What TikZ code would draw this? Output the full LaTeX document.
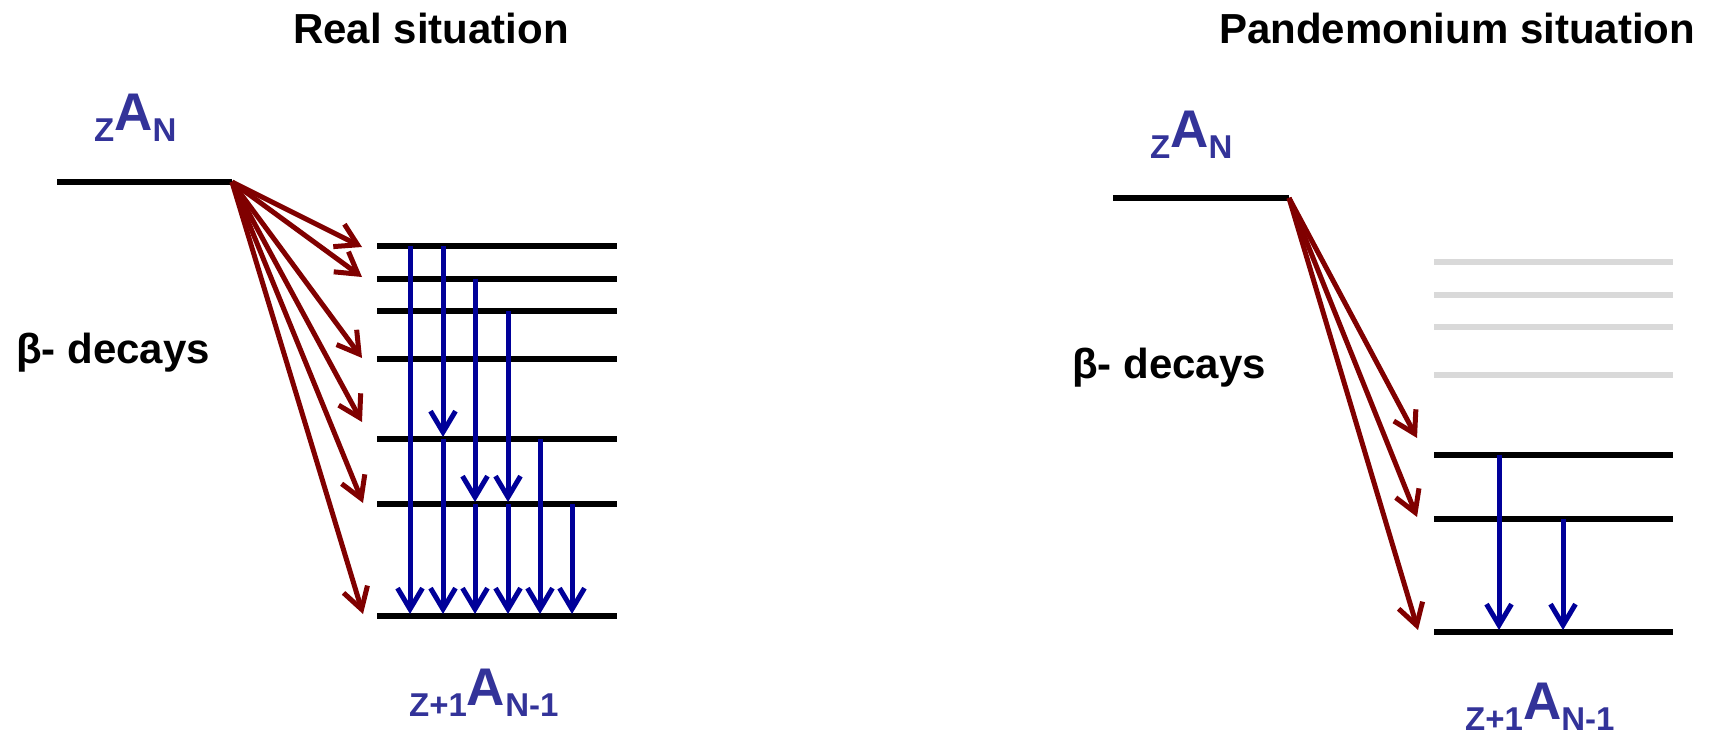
\documentclass[tikz,border=0pt]{standalone}
\usepackage{fontspec}
\setmainfont{Liberation Sans}
\usetikzlibrary{arrows.meta}
\definecolor{nucblue}{RGB}{51,51,153}
\definecolor{betared}{RGB}{128,0,0}
\definecolor{gamblue}{RGB}{0,0,153}
\definecolor{ghostgray}{RGB}{217,217,217}
\newcommand{\nucsym}[2]{\raisebox{-11pt}{\fontsize{33}{36}\selectfont #1}{\fontsize{53}{60}\selectfont A}\raisebox{-11pt}{\fontsize{33}{36}\selectfont #2}}
\tikzset{
  enlevel/.style={line width=6pt, black},
  ghostlevel/.style={line width=6pt, ghostgray},
  betaarrow/.style={line width=5pt, betared, -{Straight Barb[length=21pt,width=25pt]}},
  gamarrow/.style={line width=5pt, gamblue, -{Straight Barb[length=21pt,width=25pt]}},
  titletext/.style={font=\bfseries\fontsize{42}{50}\selectfont, inner sep=0pt, anchor=base},
  decaytext/.style={font=\bfseries\fontsize{42}{50}\selectfont, inner sep=0pt, anchor=base west},
  nuctext/.style={font=\bfseries, text=nucblue, inner sep=0pt, anchor=base west},
}
\begin{document}
\begin{tikzpicture}[x=1pt,y=-1pt]
\useasboundingbox (0,0) rectangle (1716,736);

% ---------- titles ----------
\node[titletext] (t1) at (431,43) {Real situation};
\node[titletext] (t2) at (1457,43) {Pandemonium situation};

% ---------- left: real situation ----------
\node[nuctext] (nucL) at (94,130) {\nucsym{Z}{N}};
\node[decaytext] (decL) at (16,363) {β- decays};
\node[nuctext] (dauL) at (409,705) {\nucsym{Z+1}{N-1}};

\coordinate (P0w) at (57,182);
\coordinate (P0e) at (232,182);
\draw[enlevel] (P0w) -- (P0e);

\foreach \i/\y in {1/246,2/279,3/311,4/359,5/439,6/504,7/616}{
  \coordinate (L\i w) at (377,\y);
  \coordinate (L\i e) at (617,\y);
  \draw[enlevel] (L\i w) -- (L\i e);
}

% beta feeding
\foreach \i/\x/\y in {1/362/247,2/362/277,3/362/358,4/362/422,5/363/503,6/363/614}{
  \coordinate (BT\i) at (\x,\y);
  \draw[betaarrow] (P0e) -- (BT\i);
}

% gamma transitions (x position, start y, end y)
\foreach \n/\x/\ya/\yb in {a/410/246/614, b/443/246/437, c/443/439/614, d/475/279/502, e/475/504/614, f/508/311/502, g/508/504/614, h/540/439/614, k/572/504/614}{
  \coordinate (GS\n) at (\x,\ya);
  \coordinate (GE\n) at (\x,\yb);
  \draw[gamarrow] (GS\n) -- (GE\n);
}

% ---------- right: pandemonium situation ----------
\node[nuctext] (nucR) at (1150,147) {\nucsym{Z}{N}};
\node[decaytext] (decR) at (1072,378) {β- decays};
\node[nuctext] (dauR) at (1465,719) {\nucsym{Z+1}{N-1}};

\coordinate (Q0w) at (1113,198);
\coordinate (Q0e) at (1289,198);
\draw[enlevel] (Q0w) -- (Q0e);

\foreach \i/\y in {1/262,2/295,3/327,4/375}{
  \coordinate (G\i w) at (1434,\y);
  \coordinate (G\i e) at (1673,\y);
  \draw[ghostlevel] (G\i w) -- (G\i e);
}
\foreach \i/\y in {1/455,2/519,3/632}{
  \coordinate (R\i w) at (1434,\y);
  \coordinate (R\i e) at (1673,\y);
  \draw[enlevel] (R\i w) -- (R\i e);
}

\foreach \i/\x/\y in {1/1417/438,2/1417/517,3/1418/630}{
  \coordinate (RT\i) at (\x,\y);
  \draw[betaarrow] (Q0e) -- (RT\i);
}

\coordinate (HSa) at (1499,455);
\coordinate (HEa) at (1499,630);
\coordinate (HSb) at (1563,519);
\coordinate (HEb) at (1563,630);
\draw[gamarrow] (HSa) -- (HEa);
\draw[gamarrow] (HSb) -- (HEb);
\end{tikzpicture}
\end{document}
